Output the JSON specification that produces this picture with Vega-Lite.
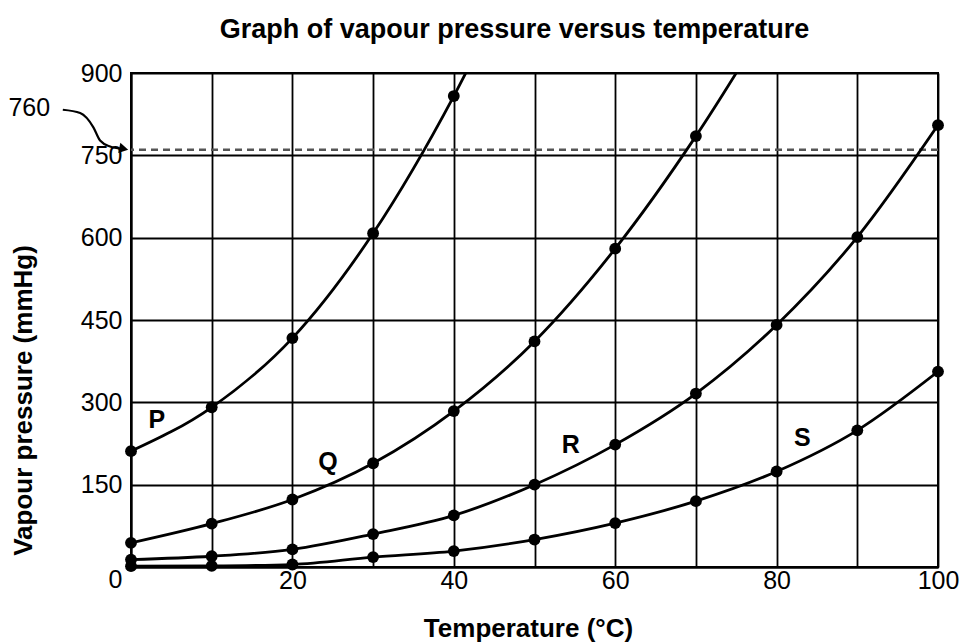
{
  "$schema": "https://vega.github.io/schema/vega-lite/v6.json",
  "width": 807,
  "height": 494,
  "autosize": {"type": "none"},
  "padding": {"left": 131, "top": 73, "right": 27, "bottom": 76},
  "background": "white",
  "title": {
    "text": "Graph of vapour pressure versus temperature",
    "font": "Liberation Sans",
    "fontSize": 27,
    "fontWeight": "bold",
    "color": "black",
    "anchor": "middle",
    "dx": -20,
    "offset": 17
  },
  "config": {
    "view": {"stroke": "black", "strokeWidth": 2},
    "axis": {
      "labelFont": "Liberation Sans",
      "labelFontSize": 25,
      "labelColor": "black",
      "titleFont": "Liberation Sans",
      "titleFontSize": 26,
      "titleFontWeight": "bold",
      "titleColor": "black",
      "grid": true,
      "gridColor": "black",
      "gridWidth": 1.8,
      "gridOpacity": 1,
      "ticks": false,
      "domainColor": "black",
      "domainWidth": 2
    }
  },
  "datasets": {
    "curves": [
      {"s": "P", "t": 0, "p": 211, "dot": true},
      {"s": "P", "t": 10, "p": 291, "dot": true},
      {"s": "P", "t": 20, "p": 417, "dot": true},
      {"s": "P", "t": 30, "p": 608, "dot": true},
      {"s": "P", "t": 40, "p": 858, "dot": true},
      {"s": "P", "t": 50, "p": 1160, "dot": false},
      {"s": "Q", "t": 0, "p": 44, "dot": true},
      {"s": "Q", "t": 10, "p": 79, "dot": true},
      {"s": "Q", "t": 20, "p": 123, "dot": true},
      {"s": "Q", "t": 30, "p": 189, "dot": true},
      {"s": "Q", "t": 40, "p": 284, "dot": true},
      {"s": "Q", "t": 50, "p": 411, "dot": true},
      {"s": "Q", "t": 60, "p": 580, "dot": true},
      {"s": "Q", "t": 70, "p": 785, "dot": true},
      {"s": "Q", "t": 80, "p": 1020, "dot": false},
      {"s": "R", "t": 0, "p": 13.5, "dot": true},
      {"s": "R", "t": 10, "p": 19.6, "dot": true},
      {"s": "R", "t": 20, "p": 32, "dot": true},
      {"s": "R", "t": 30, "p": 60, "dot": true},
      {"s": "R", "t": 40, "p": 94, "dot": true},
      {"s": "R", "t": 50, "p": 150, "dot": true},
      {"s": "R", "t": 60, "p": 223, "dot": true},
      {"s": "R", "t": 70, "p": 316, "dot": true},
      {"s": "R", "t": 80, "p": 441, "dot": true},
      {"s": "R", "t": 90, "p": 601, "dot": true},
      {"s": "R", "t": 100, "p": 805, "dot": true},
      {"s": "S", "t": 0, "p": 1.5, "dot": true},
      {"s": "S", "t": 10, "p": 2, "dot": true},
      {"s": "S", "t": 20, "p": 4.5, "dot": true},
      {"s": "S", "t": 30, "p": 18, "dot": true},
      {"s": "S", "t": 40, "p": 29, "dot": true},
      {"s": "S", "t": 50, "p": 50, "dot": true},
      {"s": "S", "t": 60, "p": 80, "dot": true},
      {"s": "S", "t": 70, "p": 120, "dot": true},
      {"s": "S", "t": 80, "p": 174, "dot": true},
      {"s": "S", "t": 90, "p": 249, "dot": true},
      {"s": "S", "t": 100, "p": 356, "dot": true}
    ],
    "names": [
      {"s": "P", "t": 3.2, "p": 267},
      {"s": "Q", "t": 24.4, "p": 191},
      {"s": "R", "t": 54.5, "p": 222},
      {"s": "S", "t": 83.2, "p": 235}
    ],
    "arrow": [
      {"t": -8.45, "p": 833},
      {"t": -6.3, "p": 827},
      {"t": -4.66, "p": 801},
      {"t": -3.83, "p": 777},
      {"t": -2.59, "p": 766},
      {"t": -1.2, "p": 762}
    ],
    "note": [{"t": -12.6, "p": 836, "label": "760", "tip_t": -0.9, "tip_p": 762}],
    "bp": [{"p": 760}]
  },
  "layer": [
    {
      "data": {"name": "bp"},
      "mark": {"type": "rule", "color": "#555555", "strokeWidth": 2.5, "strokeDash": [7, 5]},
      "encoding": {
        "y": {"field": "p", "type": "quantitative", "scale": {"domain": [0, 900], "nice": false}}
      }
    },
    {
      "data": {"name": "curves"},
      "mark": {"type": "line", "interpolate": "monotone", "color": "black", "strokeWidth": 2.8, "clip": true},
      "encoding": {
        "x": {
          "field": "t", "type": "quantitative",
          "scale": {"domain": [0, 100], "nice": false},
          "axis": {
            "values": [0, 10, 20, 30, 40, 50, 60, 70, 80, 90, 100],
            "labelExpr": "datum.value % 20 == 0 && datum.value > 0 ? datum.label : ''",
            "labelFlush": false,
            "labelPadding": 1,
            "title": "Temperature (°C)",
            "titleX": 397,
            "titleY": 61,
            "titleBaseline": "middle",
            "titleAlign": "center"
          }
        },
        "y": {
          "field": "p", "type": "quantitative",
          "scale": {"domain": [0, 900], "nice": false},
          "axis": {
            "values": [0, 150, 300, 450, 600, 750, 900],
            "labelPadding": 9,
            "labelBaseline": {"condition": {"test": "datum.value == 0", "value": "top"}, "value": "middle"},
            "title": "Vapour pressure (mmHg)",
            "titleAngle": -90,
            "titleX": -108,
            "titleY": 327,
            "titleBaseline": "middle",
            "titleAlign": "center"
          }
        },
        "detail": {"field": "s"}
      }
    },
    {
      "data": {"name": "curves"},
      "transform": [{"filter": "datum.dot"}],
      "mark": {"type": "point", "filled": true, "color": "black", "opacity": 1, "size": 140, "shape": "circle"},
      "encoding": {
        "x": {"field": "t", "type": "quantitative"},
        "y": {"field": "p", "type": "quantitative"}
      }
    },
    {
      "data": {"name": "names"},
      "mark": {"type": "text", "font": "Liberation Sans", "fontSize": 25, "fontWeight": "bold", "color": "black", "align": "center", "baseline": "middle"},
      "encoding": {
        "x": {"field": "t", "type": "quantitative"},
        "y": {"field": "p", "type": "quantitative"},
        "text": {"field": "s"}
      }
    },
    {
      "data": {"name": "note"},
      "mark": {"type": "text", "font": "Liberation Sans", "fontSize": 25, "color": "black", "align": "center", "baseline": "middle"},
      "encoding": {
        "x": {"field": "t", "type": "quantitative"},
        "y": {"field": "p", "type": "quantitative"},
        "text": {"field": "label"}
      }
    },
    {
      "data": {"name": "arrow"},
      "mark": {"type": "line", "interpolate": "monotone", "color": "black", "strokeWidth": 2.2},
      "encoding": {
        "x": {"field": "t", "type": "quantitative"},
        "y": {"field": "p", "type": "quantitative"}
      }
    },
    {
      "data": {"name": "note"},
      "mark": {"type": "point", "shape": "triangle-right", "filled": true, "color": "black", "opacity": 1, "size": 110, "angle": 12},
      "encoding": {
        "x": {"field": "tip_t", "type": "quantitative"},
        "y": {"field": "tip_p", "type": "quantitative"}
      }
    }
  ]
}
